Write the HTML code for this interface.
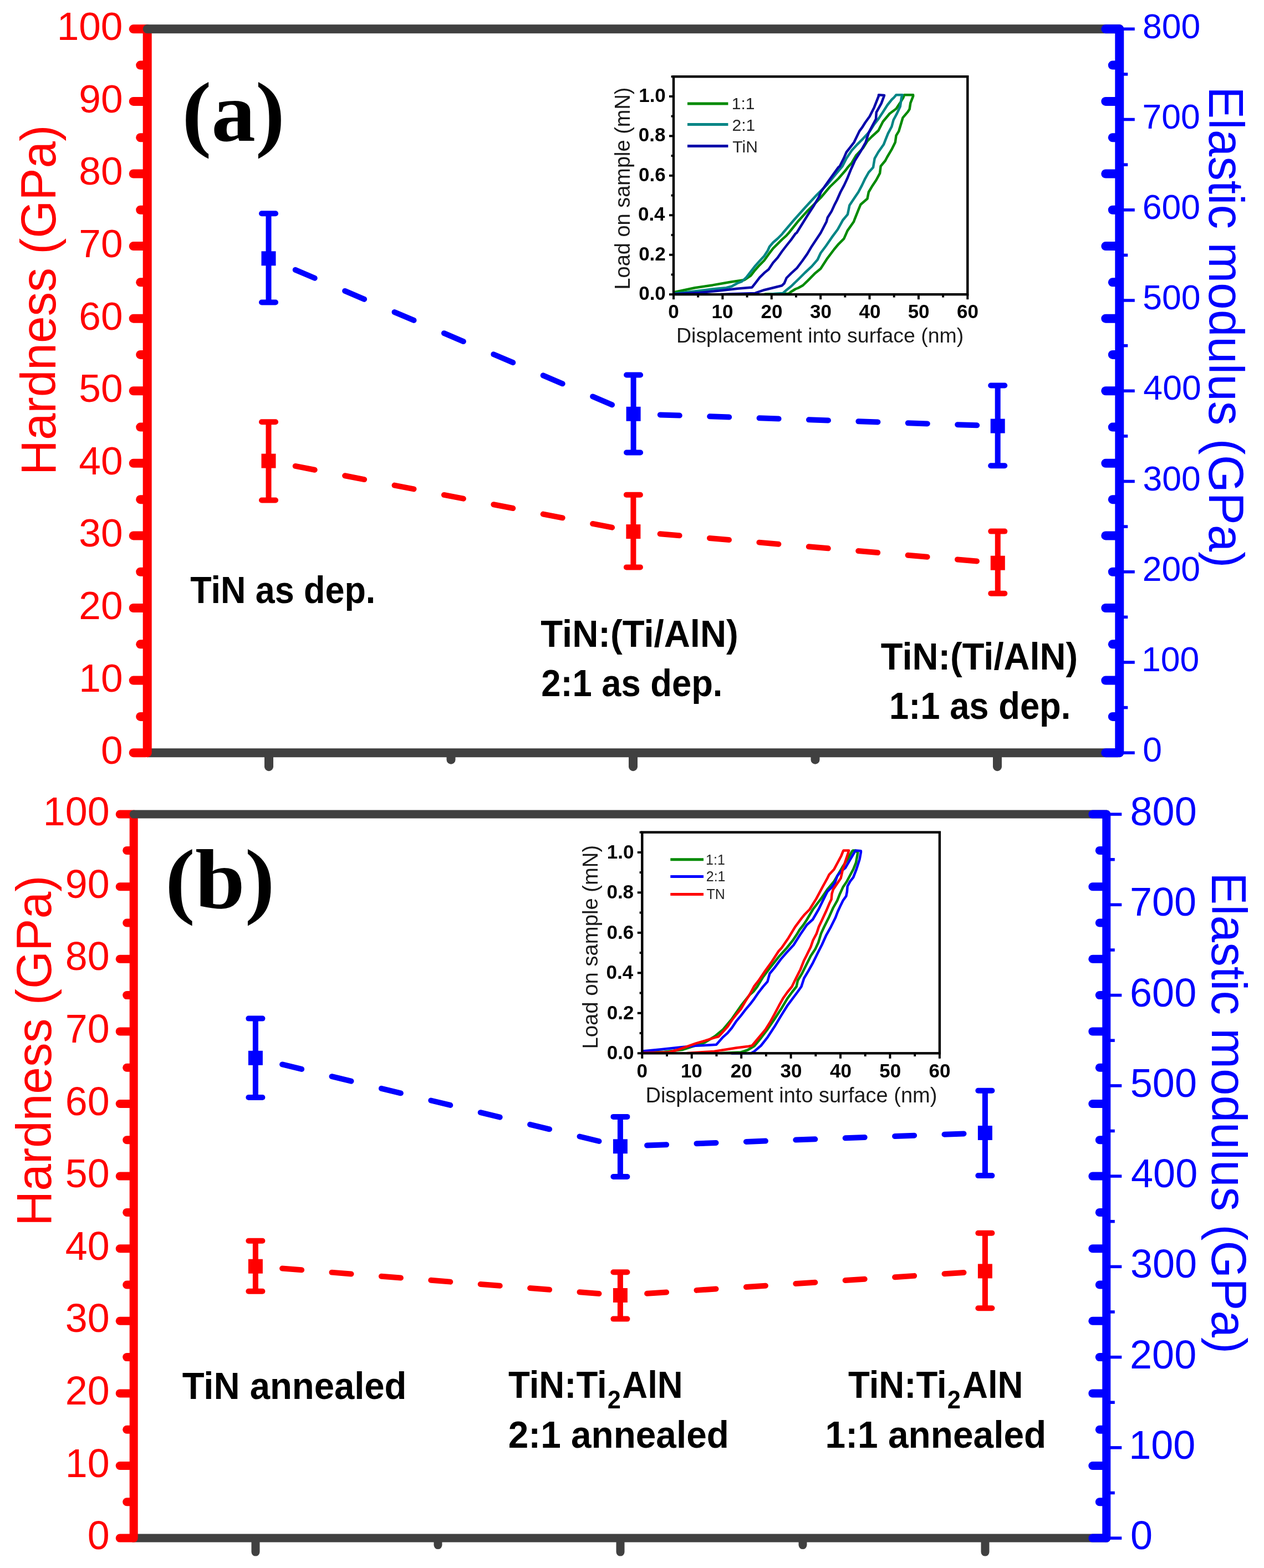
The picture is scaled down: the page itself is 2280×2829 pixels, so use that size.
<!DOCTYPE html>
<html><head><meta charset="utf-8"><title>Hardness and elastic modulus</title>
<style>html,body{margin:0;padding:0;background:#fff;overflow:hidden;width:2280px;height:2829px;}svg{display:block;}</style>
</head><body>
<svg width="2280" height="2829" viewBox="0 0 2280 2829">
<rect width="2280" height="2829" fill="#ffffff"/>
<line x1="265.7" y1="1358.2" x2="2019.3" y2="1358.2" stroke="#404040" stroke-width="16" stroke-linecap="round"/>
<line x1="485" y1="1361.2" x2="485" y2="1383.2" stroke="#404040" stroke-width="16" stroke-linecap="round"/>
<line x1="813.5" y1="1361.2" x2="813.5" y2="1370.7" stroke="#404040" stroke-width="16" stroke-linecap="round"/>
<line x1="1142" y1="1361.2" x2="1142" y2="1383.2" stroke="#404040" stroke-width="16" stroke-linecap="round"/>
<line x1="1470.5" y1="1361.2" x2="1470.5" y2="1370.7" stroke="#404040" stroke-width="16" stroke-linecap="round"/>
<line x1="1799" y1="1361.2" x2="1799" y2="1383.2" stroke="#404040" stroke-width="16" stroke-linecap="round"/>
<line x1="265.7" y1="1358.2" x2="265.7" y2="52.3" stroke="#ff0000" stroke-width="16" stroke-linecap="round"/>
<line x1="240.7" y1="1358.2" x2="262.7" y2="1358.2" stroke="#ff0000" stroke-width="16" stroke-linecap="round"/>
<line x1="253.2" y1="1292.9" x2="262.7" y2="1292.9" stroke="#ff0000" stroke-width="16" stroke-linecap="round"/>
<line x1="240.7" y1="1227.61" x2="262.7" y2="1227.61" stroke="#ff0000" stroke-width="16" stroke-linecap="round"/>
<line x1="253.2" y1="1162.32" x2="262.7" y2="1162.32" stroke="#ff0000" stroke-width="16" stroke-linecap="round"/>
<line x1="240.7" y1="1097.02" x2="262.7" y2="1097.02" stroke="#ff0000" stroke-width="16" stroke-linecap="round"/>
<line x1="253.2" y1="1031.72" x2="262.7" y2="1031.72" stroke="#ff0000" stroke-width="16" stroke-linecap="round"/>
<line x1="240.7" y1="966.43" x2="262.7" y2="966.43" stroke="#ff0000" stroke-width="16" stroke-linecap="round"/>
<line x1="253.2" y1="901.13" x2="262.7" y2="901.13" stroke="#ff0000" stroke-width="16" stroke-linecap="round"/>
<line x1="240.7" y1="835.84" x2="262.7" y2="835.84" stroke="#ff0000" stroke-width="16" stroke-linecap="round"/>
<line x1="253.2" y1="770.54" x2="262.7" y2="770.54" stroke="#ff0000" stroke-width="16" stroke-linecap="round"/>
<line x1="240.7" y1="705.25" x2="262.7" y2="705.25" stroke="#ff0000" stroke-width="16" stroke-linecap="round"/>
<line x1="253.2" y1="639.96" x2="262.7" y2="639.96" stroke="#ff0000" stroke-width="16" stroke-linecap="round"/>
<line x1="240.7" y1="574.66" x2="262.7" y2="574.66" stroke="#ff0000" stroke-width="16" stroke-linecap="round"/>
<line x1="253.2" y1="509.37" x2="262.7" y2="509.37" stroke="#ff0000" stroke-width="16" stroke-linecap="round"/>
<line x1="240.7" y1="444.07" x2="262.7" y2="444.07" stroke="#ff0000" stroke-width="16" stroke-linecap="round"/>
<line x1="253.2" y1="378.78" x2="262.7" y2="378.78" stroke="#ff0000" stroke-width="16" stroke-linecap="round"/>
<line x1="240.7" y1="313.48" x2="262.7" y2="313.48" stroke="#ff0000" stroke-width="16" stroke-linecap="round"/>
<line x1="253.2" y1="248.18" x2="262.7" y2="248.18" stroke="#ff0000" stroke-width="16" stroke-linecap="round"/>
<line x1="240.7" y1="182.89" x2="262.7" y2="182.89" stroke="#ff0000" stroke-width="16" stroke-linecap="round"/>
<line x1="253.2" y1="117.59" x2="262.7" y2="117.59" stroke="#ff0000" stroke-width="16" stroke-linecap="round"/>
<line x1="240.7" y1="52.3" x2="262.7" y2="52.3" stroke="#ff0000" stroke-width="16" stroke-linecap="round"/>
<line x1="265.7" y1="52.3" x2="2019.3" y2="52.3" stroke="#404040" stroke-width="16" stroke-linecap="round"/>
<line x1="2019.3" y1="1358.2" x2="2019.3" y2="52.3" stroke="#0000ff" stroke-width="16" stroke-linecap="round"/>
<line x1="2016.3" y1="1358.2" x2="1994.3" y2="1358.2" stroke="#0000ff" stroke-width="16" stroke-linecap="round"/>
<line x1="2016.3" y1="1292.9" x2="2006.8" y2="1292.9" stroke="#0000ff" stroke-width="16" stroke-linecap="round"/>
<line x1="2016.3" y1="1227.61" x2="1994.3" y2="1227.61" stroke="#0000ff" stroke-width="16" stroke-linecap="round"/>
<line x1="2016.3" y1="1162.32" x2="2006.8" y2="1162.32" stroke="#0000ff" stroke-width="16" stroke-linecap="round"/>
<line x1="2016.3" y1="1097.02" x2="1994.3" y2="1097.02" stroke="#0000ff" stroke-width="16" stroke-linecap="round"/>
<line x1="2016.3" y1="1031.72" x2="2006.8" y2="1031.72" stroke="#0000ff" stroke-width="16" stroke-linecap="round"/>
<line x1="2016.3" y1="966.43" x2="1994.3" y2="966.43" stroke="#0000ff" stroke-width="16" stroke-linecap="round"/>
<line x1="2016.3" y1="901.13" x2="2006.8" y2="901.13" stroke="#0000ff" stroke-width="16" stroke-linecap="round"/>
<line x1="2016.3" y1="835.84" x2="1994.3" y2="835.84" stroke="#0000ff" stroke-width="16" stroke-linecap="round"/>
<line x1="2016.3" y1="770.54" x2="2006.8" y2="770.54" stroke="#0000ff" stroke-width="16" stroke-linecap="round"/>
<line x1="2016.3" y1="705.25" x2="1994.3" y2="705.25" stroke="#0000ff" stroke-width="16" stroke-linecap="round"/>
<line x1="2016.3" y1="639.96" x2="2006.8" y2="639.96" stroke="#0000ff" stroke-width="16" stroke-linecap="round"/>
<line x1="2016.3" y1="574.66" x2="1994.3" y2="574.66" stroke="#0000ff" stroke-width="16" stroke-linecap="round"/>
<line x1="2016.3" y1="509.37" x2="2006.8" y2="509.37" stroke="#0000ff" stroke-width="16" stroke-linecap="round"/>
<line x1="2016.3" y1="444.07" x2="1994.3" y2="444.07" stroke="#0000ff" stroke-width="16" stroke-linecap="round"/>
<line x1="2016.3" y1="378.78" x2="2006.8" y2="378.78" stroke="#0000ff" stroke-width="16" stroke-linecap="round"/>
<line x1="2016.3" y1="313.48" x2="1994.3" y2="313.48" stroke="#0000ff" stroke-width="16" stroke-linecap="round"/>
<line x1="2016.3" y1="248.18" x2="2006.8" y2="248.18" stroke="#0000ff" stroke-width="16" stroke-linecap="round"/>
<line x1="2016.3" y1="182.89" x2="1994.3" y2="182.89" stroke="#0000ff" stroke-width="16" stroke-linecap="round"/>
<line x1="2016.3" y1="117.59" x2="2006.8" y2="117.59" stroke="#0000ff" stroke-width="16" stroke-linecap="round"/>
<line x1="2016.3" y1="52.3" x2="1994.3" y2="52.3" stroke="#0000ff" stroke-width="16" stroke-linecap="round"/>
<line x1="2025.3" y1="1358.2" x2="2046.8" y2="1358.2" stroke="#0000ff" stroke-width="5.5" stroke-linecap="butt"/>
<line x1="2025.3" y1="1276.58" x2="2034.3" y2="1276.58" stroke="#0000ff" stroke-width="5.5" stroke-linecap="butt"/>
<line x1="2025.3" y1="1194.96" x2="2046.8" y2="1194.96" stroke="#0000ff" stroke-width="5.5" stroke-linecap="butt"/>
<line x1="2025.3" y1="1113.34" x2="2034.3" y2="1113.34" stroke="#0000ff" stroke-width="5.5" stroke-linecap="butt"/>
<line x1="2025.3" y1="1031.72" x2="2046.8" y2="1031.72" stroke="#0000ff" stroke-width="5.5" stroke-linecap="butt"/>
<line x1="2025.3" y1="950.11" x2="2034.3" y2="950.11" stroke="#0000ff" stroke-width="5.5" stroke-linecap="butt"/>
<line x1="2025.3" y1="868.49" x2="2046.8" y2="868.49" stroke="#0000ff" stroke-width="5.5" stroke-linecap="butt"/>
<line x1="2025.3" y1="786.87" x2="2034.3" y2="786.87" stroke="#0000ff" stroke-width="5.5" stroke-linecap="butt"/>
<line x1="2025.3" y1="705.25" x2="2046.8" y2="705.25" stroke="#0000ff" stroke-width="5.5" stroke-linecap="butt"/>
<line x1="2025.3" y1="623.63" x2="2034.3" y2="623.63" stroke="#0000ff" stroke-width="5.5" stroke-linecap="butt"/>
<line x1="2025.3" y1="542.01" x2="2046.8" y2="542.01" stroke="#0000ff" stroke-width="5.5" stroke-linecap="butt"/>
<line x1="2025.3" y1="460.39" x2="2034.3" y2="460.39" stroke="#0000ff" stroke-width="5.5" stroke-linecap="butt"/>
<line x1="2025.3" y1="378.78" x2="2046.8" y2="378.78" stroke="#0000ff" stroke-width="5.5" stroke-linecap="butt"/>
<line x1="2025.3" y1="297.16" x2="2034.3" y2="297.16" stroke="#0000ff" stroke-width="5.5" stroke-linecap="butt"/>
<line x1="2025.3" y1="215.54" x2="2046.8" y2="215.54" stroke="#0000ff" stroke-width="5.5" stroke-linecap="butt"/>
<line x1="2025.3" y1="133.92" x2="2034.3" y2="133.92" stroke="#0000ff" stroke-width="5.5" stroke-linecap="butt"/>
<line x1="2025.3" y1="52.3" x2="2046.8" y2="52.3" stroke="#0000ff" stroke-width="5.5" stroke-linecap="butt"/>
<text transform="translate(181.88,1378.2) scale(1.0000,1)" font-family='"Liberation Sans", Arial, sans-serif' font-weight="normal" font-size="71.2" fill="#ff0000">0</text>
<text transform="translate(142.29,1247.61) scale(1.0000,1)" font-family='"Liberation Sans", Arial, sans-serif' font-weight="normal" font-size="71.2" fill="#ff0000">10</text>
<text transform="translate(142.29,1117.02) scale(1.0000,1)" font-family='"Liberation Sans", Arial, sans-serif' font-weight="normal" font-size="71.2" fill="#ff0000">20</text>
<text transform="translate(142.29,986.43) scale(1.0000,1)" font-family='"Liberation Sans", Arial, sans-serif' font-weight="normal" font-size="71.2" fill="#ff0000">30</text>
<text transform="translate(142.29,855.84) scale(1.0000,1)" font-family='"Liberation Sans", Arial, sans-serif' font-weight="normal" font-size="71.2" fill="#ff0000">40</text>
<text transform="translate(142.29,725.25) scale(1.0000,1)" font-family='"Liberation Sans", Arial, sans-serif' font-weight="normal" font-size="71.2" fill="#ff0000">50</text>
<text transform="translate(142.29,594.66) scale(1.0000,1)" font-family='"Liberation Sans", Arial, sans-serif' font-weight="normal" font-size="71.2" fill="#ff0000">60</text>
<text transform="translate(142.29,464.07) scale(1.0000,1)" font-family='"Liberation Sans", Arial, sans-serif' font-weight="normal" font-size="71.2" fill="#ff0000">70</text>
<text transform="translate(142.29,333.48) scale(1.0000,1)" font-family='"Liberation Sans", Arial, sans-serif' font-weight="normal" font-size="71.2" fill="#ff0000">80</text>
<text transform="translate(142.29,202.89) scale(1.0000,1)" font-family='"Liberation Sans", Arial, sans-serif' font-weight="normal" font-size="71.2" fill="#ff0000">90</text>
<text transform="translate(102.69,72.3) scale(1.0000,1)" font-family='"Liberation Sans", Arial, sans-serif' font-weight="normal" font-size="71.2" fill="#ff0000">100</text>
<text transform="translate(2061.36,1374.4) scale(1.0000,1)" font-family='"Liberation Sans", Arial, sans-serif' font-weight="normal" font-size="62.5" fill="#0000ff">0</text>
<text transform="translate(2059.04,1211.16) scale(1.0000,1)" font-family='"Liberation Sans", Arial, sans-serif' font-weight="normal" font-size="62.5" fill="#0000ff">100</text>
<text transform="translate(2060.66,1047.92) scale(1.0000,1)" font-family='"Liberation Sans", Arial, sans-serif' font-weight="normal" font-size="62.5" fill="#0000ff">200</text>
<text transform="translate(2061.42,884.69) scale(1.0000,1)" font-family='"Liberation Sans", Arial, sans-serif' font-weight="normal" font-size="62.5" fill="#0000ff">300</text>
<text transform="translate(2062.37,721.45) scale(1.0000,1)" font-family='"Liberation Sans", Arial, sans-serif' font-weight="normal" font-size="62.5" fill="#0000ff">400</text>
<text transform="translate(2061.3,558.21) scale(1.0000,1)" font-family='"Liberation Sans", Arial, sans-serif' font-weight="normal" font-size="62.5" fill="#0000ff">500</text>
<text transform="translate(2060.63,394.98) scale(1.0000,1)" font-family='"Liberation Sans", Arial, sans-serif' font-weight="normal" font-size="62.5" fill="#0000ff">600</text>
<text transform="translate(2060.6,231.74) scale(1.0000,1)" font-family='"Liberation Sans", Arial, sans-serif' font-weight="normal" font-size="62.5" fill="#0000ff">700</text>
<text transform="translate(2061.08,68.5) scale(1.0000,1)" font-family='"Liberation Sans", Arial, sans-serif' font-weight="normal" font-size="62.5" fill="#0000ff">800</text>
<text transform="translate(100.3,857.17) rotate(-90) scale(0.9990,1.0200)" font-family='"Liberation Sans", Arial, sans-serif' font-weight="normal" font-size="87.5" fill="#ff0000">Hardness (GPa)</text>
<text transform="translate(2181.2,156.04) rotate(90) scale(0.9979,1.0200)" font-family='"Liberation Sans", Arial, sans-serif' font-weight="normal" font-size="87.5" fill="#0000ff">Elastic modulus (GPa)</text>
<line x1="241.2" y1="2775.1" x2="1995.8" y2="2775.1" stroke="#404040" stroke-width="15" stroke-linecap="round"/>
<line x1="461" y1="2778.1" x2="461" y2="2800.1" stroke="#404040" stroke-width="15" stroke-linecap="round"/>
<line x1="790" y1="2778.1" x2="790" y2="2787.6" stroke="#404040" stroke-width="15" stroke-linecap="round"/>
<line x1="1119" y1="2778.1" x2="1119" y2="2800.1" stroke="#404040" stroke-width="15" stroke-linecap="round"/>
<line x1="1448" y1="2778.1" x2="1448" y2="2787.6" stroke="#404040" stroke-width="15" stroke-linecap="round"/>
<line x1="1777" y1="2778.1" x2="1777" y2="2800.1" stroke="#404040" stroke-width="15" stroke-linecap="round"/>
<line x1="241.2" y1="2775.1" x2="241.2" y2="1469.1" stroke="#ff0000" stroke-width="15" stroke-linecap="round"/>
<line x1="216.2" y1="2775.1" x2="238.2" y2="2775.1" stroke="#ff0000" stroke-width="15" stroke-linecap="round"/>
<line x1="228.7" y1="2709.8" x2="238.2" y2="2709.8" stroke="#ff0000" stroke-width="15" stroke-linecap="round"/>
<line x1="216.2" y1="2644.5" x2="238.2" y2="2644.5" stroke="#ff0000" stroke-width="15" stroke-linecap="round"/>
<line x1="228.7" y1="2579.2" x2="238.2" y2="2579.2" stroke="#ff0000" stroke-width="15" stroke-linecap="round"/>
<line x1="216.2" y1="2513.9" x2="238.2" y2="2513.9" stroke="#ff0000" stroke-width="15" stroke-linecap="round"/>
<line x1="228.7" y1="2448.6" x2="238.2" y2="2448.6" stroke="#ff0000" stroke-width="15" stroke-linecap="round"/>
<line x1="216.2" y1="2383.3" x2="238.2" y2="2383.3" stroke="#ff0000" stroke-width="15" stroke-linecap="round"/>
<line x1="228.7" y1="2318" x2="238.2" y2="2318" stroke="#ff0000" stroke-width="15" stroke-linecap="round"/>
<line x1="216.2" y1="2252.7" x2="238.2" y2="2252.7" stroke="#ff0000" stroke-width="15" stroke-linecap="round"/>
<line x1="228.7" y1="2187.4" x2="238.2" y2="2187.4" stroke="#ff0000" stroke-width="15" stroke-linecap="round"/>
<line x1="216.2" y1="2122.1" x2="238.2" y2="2122.1" stroke="#ff0000" stroke-width="15" stroke-linecap="round"/>
<line x1="228.7" y1="2056.8" x2="238.2" y2="2056.8" stroke="#ff0000" stroke-width="15" stroke-linecap="round"/>
<line x1="216.2" y1="1991.5" x2="238.2" y2="1991.5" stroke="#ff0000" stroke-width="15" stroke-linecap="round"/>
<line x1="228.7" y1="1926.2" x2="238.2" y2="1926.2" stroke="#ff0000" stroke-width="15" stroke-linecap="round"/>
<line x1="216.2" y1="1860.9" x2="238.2" y2="1860.9" stroke="#ff0000" stroke-width="15" stroke-linecap="round"/>
<line x1="228.7" y1="1795.6" x2="238.2" y2="1795.6" stroke="#ff0000" stroke-width="15" stroke-linecap="round"/>
<line x1="216.2" y1="1730.3" x2="238.2" y2="1730.3" stroke="#ff0000" stroke-width="15" stroke-linecap="round"/>
<line x1="228.7" y1="1665" x2="238.2" y2="1665" stroke="#ff0000" stroke-width="15" stroke-linecap="round"/>
<line x1="216.2" y1="1599.7" x2="238.2" y2="1599.7" stroke="#ff0000" stroke-width="15" stroke-linecap="round"/>
<line x1="228.7" y1="1534.4" x2="238.2" y2="1534.4" stroke="#ff0000" stroke-width="15" stroke-linecap="round"/>
<line x1="216.2" y1="1469.1" x2="238.2" y2="1469.1" stroke="#ff0000" stroke-width="15" stroke-linecap="round"/>
<line x1="241.2" y1="1469.1" x2="1995.8" y2="1469.1" stroke="#404040" stroke-width="15" stroke-linecap="round"/>
<line x1="1995.8" y1="2775.1" x2="1995.8" y2="1469.1" stroke="#0000ff" stroke-width="15" stroke-linecap="round"/>
<line x1="1992.8" y1="2775.1" x2="1970.8" y2="2775.1" stroke="#0000ff" stroke-width="15" stroke-linecap="round"/>
<line x1="1992.8" y1="2709.8" x2="1983.3" y2="2709.8" stroke="#0000ff" stroke-width="15" stroke-linecap="round"/>
<line x1="1992.8" y1="2644.5" x2="1970.8" y2="2644.5" stroke="#0000ff" stroke-width="15" stroke-linecap="round"/>
<line x1="1992.8" y1="2579.2" x2="1983.3" y2="2579.2" stroke="#0000ff" stroke-width="15" stroke-linecap="round"/>
<line x1="1992.8" y1="2513.9" x2="1970.8" y2="2513.9" stroke="#0000ff" stroke-width="15" stroke-linecap="round"/>
<line x1="1992.8" y1="2448.6" x2="1983.3" y2="2448.6" stroke="#0000ff" stroke-width="15" stroke-linecap="round"/>
<line x1="1992.8" y1="2383.3" x2="1970.8" y2="2383.3" stroke="#0000ff" stroke-width="15" stroke-linecap="round"/>
<line x1="1992.8" y1="2318" x2="1983.3" y2="2318" stroke="#0000ff" stroke-width="15" stroke-linecap="round"/>
<line x1="1992.8" y1="2252.7" x2="1970.8" y2="2252.7" stroke="#0000ff" stroke-width="15" stroke-linecap="round"/>
<line x1="1992.8" y1="2187.4" x2="1983.3" y2="2187.4" stroke="#0000ff" stroke-width="15" stroke-linecap="round"/>
<line x1="1992.8" y1="2122.1" x2="1970.8" y2="2122.1" stroke="#0000ff" stroke-width="15" stroke-linecap="round"/>
<line x1="1992.8" y1="2056.8" x2="1983.3" y2="2056.8" stroke="#0000ff" stroke-width="15" stroke-linecap="round"/>
<line x1="1992.8" y1="1991.5" x2="1970.8" y2="1991.5" stroke="#0000ff" stroke-width="15" stroke-linecap="round"/>
<line x1="1992.8" y1="1926.2" x2="1983.3" y2="1926.2" stroke="#0000ff" stroke-width="15" stroke-linecap="round"/>
<line x1="1992.8" y1="1860.9" x2="1970.8" y2="1860.9" stroke="#0000ff" stroke-width="15" stroke-linecap="round"/>
<line x1="1992.8" y1="1795.6" x2="1983.3" y2="1795.6" stroke="#0000ff" stroke-width="15" stroke-linecap="round"/>
<line x1="1992.8" y1="1730.3" x2="1970.8" y2="1730.3" stroke="#0000ff" stroke-width="15" stroke-linecap="round"/>
<line x1="1992.8" y1="1665" x2="1983.3" y2="1665" stroke="#0000ff" stroke-width="15" stroke-linecap="round"/>
<line x1="1992.8" y1="1599.7" x2="1970.8" y2="1599.7" stroke="#0000ff" stroke-width="15" stroke-linecap="round"/>
<line x1="1992.8" y1="1534.4" x2="1983.3" y2="1534.4" stroke="#0000ff" stroke-width="15" stroke-linecap="round"/>
<line x1="1992.8" y1="1469.1" x2="1970.8" y2="1469.1" stroke="#0000ff" stroke-width="15" stroke-linecap="round"/>
<line x1="2001.8" y1="2775.1" x2="2023.3" y2="2775.1" stroke="#0000ff" stroke-width="5.5" stroke-linecap="butt"/>
<line x1="2001.8" y1="2693.47" x2="2010.8" y2="2693.47" stroke="#0000ff" stroke-width="5.5" stroke-linecap="butt"/>
<line x1="2001.8" y1="2611.85" x2="2023.3" y2="2611.85" stroke="#0000ff" stroke-width="5.5" stroke-linecap="butt"/>
<line x1="2001.8" y1="2530.22" x2="2010.8" y2="2530.22" stroke="#0000ff" stroke-width="5.5" stroke-linecap="butt"/>
<line x1="2001.8" y1="2448.6" x2="2023.3" y2="2448.6" stroke="#0000ff" stroke-width="5.5" stroke-linecap="butt"/>
<line x1="2001.8" y1="2366.97" x2="2010.8" y2="2366.97" stroke="#0000ff" stroke-width="5.5" stroke-linecap="butt"/>
<line x1="2001.8" y1="2285.35" x2="2023.3" y2="2285.35" stroke="#0000ff" stroke-width="5.5" stroke-linecap="butt"/>
<line x1="2001.8" y1="2203.72" x2="2010.8" y2="2203.72" stroke="#0000ff" stroke-width="5.5" stroke-linecap="butt"/>
<line x1="2001.8" y1="2122.1" x2="2023.3" y2="2122.1" stroke="#0000ff" stroke-width="5.5" stroke-linecap="butt"/>
<line x1="2001.8" y1="2040.47" x2="2010.8" y2="2040.47" stroke="#0000ff" stroke-width="5.5" stroke-linecap="butt"/>
<line x1="2001.8" y1="1958.85" x2="2023.3" y2="1958.85" stroke="#0000ff" stroke-width="5.5" stroke-linecap="butt"/>
<line x1="2001.8" y1="1877.22" x2="2010.8" y2="1877.22" stroke="#0000ff" stroke-width="5.5" stroke-linecap="butt"/>
<line x1="2001.8" y1="1795.6" x2="2023.3" y2="1795.6" stroke="#0000ff" stroke-width="5.5" stroke-linecap="butt"/>
<line x1="2001.8" y1="1713.97" x2="2010.8" y2="1713.97" stroke="#0000ff" stroke-width="5.5" stroke-linecap="butt"/>
<line x1="2001.8" y1="1632.35" x2="2023.3" y2="1632.35" stroke="#0000ff" stroke-width="5.5" stroke-linecap="butt"/>
<line x1="2001.8" y1="1550.72" x2="2010.8" y2="1550.72" stroke="#0000ff" stroke-width="5.5" stroke-linecap="butt"/>
<line x1="2001.8" y1="1469.1" x2="2023.3" y2="1469.1" stroke="#0000ff" stroke-width="5.5" stroke-linecap="butt"/>
<text transform="translate(157.67,2795.2) scale(1.0000,1)" font-family='"Liberation Sans", Arial, sans-serif' font-weight="normal" font-size="71.8" fill="#ff0000">0</text>
<text transform="translate(117.74,2664.6) scale(1.0000,1)" font-family='"Liberation Sans", Arial, sans-serif' font-weight="normal" font-size="71.8" fill="#ff0000">10</text>
<text transform="translate(117.74,2534) scale(1.0000,1)" font-family='"Liberation Sans", Arial, sans-serif' font-weight="normal" font-size="71.8" fill="#ff0000">20</text>
<text transform="translate(117.74,2403.4) scale(1.0000,1)" font-family='"Liberation Sans", Arial, sans-serif' font-weight="normal" font-size="71.8" fill="#ff0000">30</text>
<text transform="translate(117.74,2272.8) scale(1.0000,1)" font-family='"Liberation Sans", Arial, sans-serif' font-weight="normal" font-size="71.8" fill="#ff0000">40</text>
<text transform="translate(117.74,2142.2) scale(1.0000,1)" font-family='"Liberation Sans", Arial, sans-serif' font-weight="normal" font-size="71.8" fill="#ff0000">50</text>
<text transform="translate(117.74,2011.6) scale(1.0000,1)" font-family='"Liberation Sans", Arial, sans-serif' font-weight="normal" font-size="71.8" fill="#ff0000">60</text>
<text transform="translate(117.74,1881) scale(1.0000,1)" font-family='"Liberation Sans", Arial, sans-serif' font-weight="normal" font-size="71.8" fill="#ff0000">70</text>
<text transform="translate(117.74,1750.4) scale(1.0000,1)" font-family='"Liberation Sans", Arial, sans-serif' font-weight="normal" font-size="71.8" fill="#ff0000">80</text>
<text transform="translate(117.74,1619.8) scale(1.0000,1)" font-family='"Liberation Sans", Arial, sans-serif' font-weight="normal" font-size="71.8" fill="#ff0000">90</text>
<text transform="translate(77.81,1489.2) scale(1.0000,1)" font-family='"Liberation Sans", Arial, sans-serif' font-weight="normal" font-size="71.8" fill="#ff0000">100</text>
<text transform="translate(2038.89,2795.2) scale(1.0000,1)" font-family='"Liberation Sans", Arial, sans-serif' font-weight="normal" font-size="72" fill="#0000ff">0</text>
<text transform="translate(2036.22,2631.95) scale(1.0000,1)" font-family='"Liberation Sans", Arial, sans-serif' font-weight="normal" font-size="72" fill="#0000ff">100</text>
<text transform="translate(2038.08,2468.7) scale(1.0000,1)" font-family='"Liberation Sans", Arial, sans-serif' font-weight="normal" font-size="72" fill="#0000ff">200</text>
<text transform="translate(2038.96,2305.45) scale(1.0000,1)" font-family='"Liberation Sans", Arial, sans-serif' font-weight="normal" font-size="72" fill="#0000ff">300</text>
<text transform="translate(2040.05,2142.2) scale(1.0000,1)" font-family='"Liberation Sans", Arial, sans-serif' font-weight="normal" font-size="72" fill="#0000ff">400</text>
<text transform="translate(2038.82,1978.95) scale(1.0000,1)" font-family='"Liberation Sans", Arial, sans-serif' font-weight="normal" font-size="72" fill="#0000ff">500</text>
<text transform="translate(2038.04,1815.7) scale(1.0000,1)" font-family='"Liberation Sans", Arial, sans-serif' font-weight="normal" font-size="72" fill="#0000ff">600</text>
<text transform="translate(2038.01,1652.45) scale(1.0000,1)" font-family='"Liberation Sans", Arial, sans-serif' font-weight="normal" font-size="72" fill="#0000ff">700</text>
<text transform="translate(2038.57,1489.2) scale(1.0000,1)" font-family='"Liberation Sans", Arial, sans-serif' font-weight="normal" font-size="72" fill="#0000ff">800</text>
<text transform="translate(91.6,2211.98) rotate(-90) scale(1.0004,1.0200)" font-family='"Liberation Sans", Arial, sans-serif' font-weight="normal" font-size="87.5" fill="#ff0000">Hardness (GPa)</text>
<text transform="translate(2185.6,1574.04) rotate(90) scale(0.9973,1.0200)" font-family='"Liberation Sans", Arial, sans-serif' font-weight="normal" font-size="87.5" fill="#0000ff">Elastic modulus (GPa)</text>
<line x1="532.7" y1="486.84" x2="567.7" y2="501.76" stroke="#0000ff" stroke-width="10" stroke-linecap="round"/>
<line x1="622.1" y1="524.95" x2="657.1" y2="539.87" stroke="#0000ff" stroke-width="10" stroke-linecap="round"/>
<line x1="711.5" y1="563.05" x2="746.5" y2="577.97" stroke="#0000ff" stroke-width="10" stroke-linecap="round"/>
<line x1="800.9" y1="601.16" x2="835.9" y2="616.08" stroke="#0000ff" stroke-width="10" stroke-linecap="round"/>
<line x1="890.3" y1="639.26" x2="925.3" y2="654.18" stroke="#0000ff" stroke-width="10" stroke-linecap="round"/>
<line x1="979.7" y1="677.37" x2="1014.7" y2="692.29" stroke="#0000ff" stroke-width="10" stroke-linecap="round"/>
<line x1="1069.1" y1="715.47" x2="1104.1" y2="730.39" stroke="#0000ff" stroke-width="10" stroke-linecap="round"/>
<line x1="1190.8" y1="748.4" x2="1225.8" y2="749.56" stroke="#0000ff" stroke-width="10" stroke-linecap="round"/>
<line x1="1280.2" y1="751.37" x2="1315.2" y2="752.53" stroke="#0000ff" stroke-width="10" stroke-linecap="round"/>
<line x1="1369.6" y1="754.33" x2="1404.6" y2="755.49" stroke="#0000ff" stroke-width="10" stroke-linecap="round"/>
<line x1="1459" y1="757.3" x2="1494" y2="758.46" stroke="#0000ff" stroke-width="10" stroke-linecap="round"/>
<line x1="1548.4" y1="760.26" x2="1583.4" y2="761.42" stroke="#0000ff" stroke-width="10" stroke-linecap="round"/>
<line x1="1637.8" y1="763.23" x2="1672.8" y2="764.39" stroke="#0000ff" stroke-width="10" stroke-linecap="round"/>
<line x1="1727.2" y1="766.19" x2="1762.2" y2="767.36" stroke="#0000ff" stroke-width="10" stroke-linecap="round"/>
<line x1="484.5" y1="385.3" x2="484.5" y2="545.5" stroke="#0000ff" stroke-width="10" stroke-linecap="butt"/>
<line x1="472" y1="385.3" x2="497" y2="385.3" stroke="#0000ff" stroke-width="10" stroke-linecap="round"/>
<line x1="472" y1="545.5" x2="497" y2="545.5" stroke="#0000ff" stroke-width="10" stroke-linecap="round"/>
<rect x="471.5" y="453.3" width="26" height="26" fill="#0000ff"/>
<line x1="1142.6" y1="676.5" x2="1142.6" y2="816.5" stroke="#0000ff" stroke-width="10" stroke-linecap="butt"/>
<line x1="1130.1" y1="676.5" x2="1155.1" y2="676.5" stroke="#0000ff" stroke-width="10" stroke-linecap="round"/>
<line x1="1130.1" y1="816.5" x2="1155.1" y2="816.5" stroke="#0000ff" stroke-width="10" stroke-linecap="round"/>
<rect x="1129.6" y="733.8" width="26" height="26" fill="#0000ff"/>
<line x1="1799.7" y1="695.5" x2="1799.7" y2="840.3" stroke="#0000ff" stroke-width="10" stroke-linecap="butt"/>
<line x1="1787.2" y1="695.5" x2="1812.2" y2="695.5" stroke="#0000ff" stroke-width="10" stroke-linecap="round"/>
<line x1="1787.2" y1="840.3" x2="1812.2" y2="840.3" stroke="#0000ff" stroke-width="10" stroke-linecap="round"/>
<rect x="1786.7" y="755.6" width="26" height="26" fill="#0000ff"/>
<line x1="532.7" y1="840.94" x2="567.7" y2="847.72" stroke="#ff0000" stroke-width="10" stroke-linecap="round"/>
<line x1="622.1" y1="858.27" x2="657.1" y2="865.05" stroke="#ff0000" stroke-width="10" stroke-linecap="round"/>
<line x1="711.5" y1="875.59" x2="746.5" y2="882.38" stroke="#ff0000" stroke-width="10" stroke-linecap="round"/>
<line x1="800.9" y1="892.92" x2="835.9" y2="899.7" stroke="#ff0000" stroke-width="10" stroke-linecap="round"/>
<line x1="890.3" y1="910.24" x2="925.3" y2="917.03" stroke="#ff0000" stroke-width="10" stroke-linecap="round"/>
<line x1="979.7" y1="927.57" x2="1014.7" y2="934.35" stroke="#ff0000" stroke-width="10" stroke-linecap="round"/>
<line x1="1069.1" y1="944.89" x2="1104.1" y2="951.68" stroke="#ff0000" stroke-width="10" stroke-linecap="round"/>
<line x1="1190.6" y1="963.25" x2="1225.6" y2="966.26" stroke="#ff0000" stroke-width="10" stroke-linecap="round"/>
<line x1="1280" y1="970.95" x2="1315" y2="973.96" stroke="#ff0000" stroke-width="10" stroke-linecap="round"/>
<line x1="1369.4" y1="978.64" x2="1404.4" y2="981.66" stroke="#ff0000" stroke-width="10" stroke-linecap="round"/>
<line x1="1458.8" y1="986.34" x2="1493.8" y2="989.35" stroke="#ff0000" stroke-width="10" stroke-linecap="round"/>
<line x1="1548.2" y1="994.04" x2="1583.2" y2="997.05" stroke="#ff0000" stroke-width="10" stroke-linecap="round"/>
<line x1="1637.6" y1="1001.74" x2="1672.6" y2="1004.75" stroke="#ff0000" stroke-width="10" stroke-linecap="round"/>
<line x1="1727" y1="1009.43" x2="1762" y2="1012.45" stroke="#ff0000" stroke-width="10" stroke-linecap="round"/>
<line x1="484.5" y1="761.3" x2="484.5" y2="902.5" stroke="#ff0000" stroke-width="10" stroke-linecap="butt"/>
<line x1="472" y1="761.3" x2="497" y2="761.3" stroke="#ff0000" stroke-width="10" stroke-linecap="round"/>
<line x1="472" y1="902.5" x2="497" y2="902.5" stroke="#ff0000" stroke-width="10" stroke-linecap="round"/>
<rect x="471.5" y="818.6" width="26" height="26" fill="#ff0000"/>
<line x1="1142.4" y1="892.7" x2="1142.4" y2="1023.4" stroke="#ff0000" stroke-width="10" stroke-linecap="butt"/>
<line x1="1129.9" y1="892.7" x2="1154.9" y2="892.7" stroke="#ff0000" stroke-width="10" stroke-linecap="round"/>
<line x1="1129.9" y1="1023.4" x2="1154.9" y2="1023.4" stroke="#ff0000" stroke-width="10" stroke-linecap="round"/>
<rect x="1129.4" y="946.1" width="26" height="26" fill="#ff0000"/>
<line x1="1799.8" y1="958.6" x2="1799.8" y2="1070.8" stroke="#ff0000" stroke-width="10" stroke-linecap="butt"/>
<line x1="1787.3" y1="958.6" x2="1812.3" y2="958.6" stroke="#ff0000" stroke-width="10" stroke-linecap="round"/>
<line x1="1787.3" y1="1070.8" x2="1812.3" y2="1070.8" stroke="#ff0000" stroke-width="10" stroke-linecap="round"/>
<rect x="1786.8" y="1002.7" width="26" height="26" fill="#ff0000"/>
<line x1="509.1" y1="1920.48" x2="544.1" y2="1928.97" stroke="#0000ff" stroke-width="10" stroke-linecap="round"/>
<line x1="598.5" y1="1942.15" x2="633.5" y2="1950.64" stroke="#0000ff" stroke-width="10" stroke-linecap="round"/>
<line x1="687.9" y1="1963.83" x2="722.9" y2="1972.31" stroke="#0000ff" stroke-width="10" stroke-linecap="round"/>
<line x1="777.3" y1="1985.5" x2="812.3" y2="1993.98" stroke="#0000ff" stroke-width="10" stroke-linecap="round"/>
<line x1="866.7" y1="2007.17" x2="901.7" y2="2015.65" stroke="#0000ff" stroke-width="10" stroke-linecap="round"/>
<line x1="956.1" y1="2028.84" x2="991.1" y2="2037.32" stroke="#0000ff" stroke-width="10" stroke-linecap="round"/>
<line x1="1045.5" y1="2050.51" x2="1080.5" y2="2058.99" stroke="#0000ff" stroke-width="10" stroke-linecap="round"/>
<line x1="1167.1" y1="2066.52" x2="1202.1" y2="2065.23" stroke="#0000ff" stroke-width="10" stroke-linecap="round"/>
<line x1="1256.5" y1="2063.22" x2="1291.5" y2="2061.93" stroke="#0000ff" stroke-width="10" stroke-linecap="round"/>
<line x1="1345.9" y1="2059.92" x2="1380.9" y2="2058.62" stroke="#0000ff" stroke-width="10" stroke-linecap="round"/>
<line x1="1435.3" y1="2056.62" x2="1470.3" y2="2055.32" stroke="#0000ff" stroke-width="10" stroke-linecap="round"/>
<line x1="1524.7" y1="2053.31" x2="1559.7" y2="2052.02" stroke="#0000ff" stroke-width="10" stroke-linecap="round"/>
<line x1="1614.1" y1="2050.01" x2="1649.1" y2="2048.72" stroke="#0000ff" stroke-width="10" stroke-linecap="round"/>
<line x1="1703.5" y1="2046.71" x2="1738.5" y2="2045.42" stroke="#0000ff" stroke-width="10" stroke-linecap="round"/>
<line x1="460.9" y1="1837.6" x2="460.9" y2="1980" stroke="#0000ff" stroke-width="10" stroke-linecap="butt"/>
<line x1="448.4" y1="1837.6" x2="473.4" y2="1837.6" stroke="#0000ff" stroke-width="10" stroke-linecap="round"/>
<line x1="448.4" y1="1980" x2="473.4" y2="1980" stroke="#0000ff" stroke-width="10" stroke-linecap="round"/>
<rect x="447.9" y="1895.8" width="26" height="26" fill="#0000ff"/>
<line x1="1118.9" y1="2014.9" x2="1118.9" y2="2123" stroke="#0000ff" stroke-width="10" stroke-linecap="butt"/>
<line x1="1106.4" y1="2014.9" x2="1131.4" y2="2014.9" stroke="#0000ff" stroke-width="10" stroke-linecap="round"/>
<line x1="1106.4" y1="2123" x2="1131.4" y2="2123" stroke="#0000ff" stroke-width="10" stroke-linecap="round"/>
<rect x="1105.9" y="2055.3" width="26" height="26" fill="#0000ff"/>
<line x1="1776.9" y1="1967.8" x2="1776.9" y2="2121.1" stroke="#0000ff" stroke-width="10" stroke-linecap="butt"/>
<line x1="1764.4" y1="1967.8" x2="1789.4" y2="1967.8" stroke="#0000ff" stroke-width="10" stroke-linecap="round"/>
<line x1="1764.4" y1="2121.1" x2="1789.4" y2="2121.1" stroke="#0000ff" stroke-width="10" stroke-linecap="round"/>
<rect x="1763.9" y="2031" width="26" height="26" fill="#0000ff"/>
<line x1="509.1" y1="2288.53" x2="544.1" y2="2291.31" stroke="#ff0000" stroke-width="10" stroke-linecap="round"/>
<line x1="598.5" y1="2295.64" x2="633.5" y2="2298.42" stroke="#ff0000" stroke-width="10" stroke-linecap="round"/>
<line x1="687.9" y1="2302.74" x2="722.9" y2="2305.52" stroke="#ff0000" stroke-width="10" stroke-linecap="round"/>
<line x1="777.3" y1="2309.85" x2="812.3" y2="2312.63" stroke="#ff0000" stroke-width="10" stroke-linecap="round"/>
<line x1="866.7" y1="2316.95" x2="901.7" y2="2319.74" stroke="#ff0000" stroke-width="10" stroke-linecap="round"/>
<line x1="956.1" y1="2324.06" x2="991.1" y2="2326.84" stroke="#ff0000" stroke-width="10" stroke-linecap="round"/>
<line x1="1045.5" y1="2331.17" x2="1080.5" y2="2333.95" stroke="#ff0000" stroke-width="10" stroke-linecap="round"/>
<line x1="1167.1" y1="2333.81" x2="1202.1" y2="2331.49" stroke="#ff0000" stroke-width="10" stroke-linecap="round"/>
<line x1="1256.5" y1="2327.88" x2="1291.5" y2="2325.56" stroke="#ff0000" stroke-width="10" stroke-linecap="round"/>
<line x1="1345.9" y1="2321.96" x2="1380.9" y2="2319.64" stroke="#ff0000" stroke-width="10" stroke-linecap="round"/>
<line x1="1435.3" y1="2316.03" x2="1470.3" y2="2313.72" stroke="#ff0000" stroke-width="10" stroke-linecap="round"/>
<line x1="1524.7" y1="2310.11" x2="1559.7" y2="2307.79" stroke="#ff0000" stroke-width="10" stroke-linecap="round"/>
<line x1="1614.1" y1="2304.19" x2="1649.1" y2="2301.87" stroke="#ff0000" stroke-width="10" stroke-linecap="round"/>
<line x1="1703.5" y1="2298.26" x2="1738.5" y2="2295.94" stroke="#ff0000" stroke-width="10" stroke-linecap="round"/>
<line x1="460.9" y1="2238.8" x2="460.9" y2="2329.8" stroke="#ff0000" stroke-width="10" stroke-linecap="butt"/>
<line x1="448.4" y1="2238.8" x2="473.4" y2="2238.8" stroke="#ff0000" stroke-width="10" stroke-linecap="round"/>
<line x1="448.4" y1="2329.8" x2="473.4" y2="2329.8" stroke="#ff0000" stroke-width="10" stroke-linecap="round"/>
<rect x="447.9" y="2271.7" width="26" height="26" fill="#ff0000"/>
<line x1="1118.9" y1="2295.2" x2="1118.9" y2="2379.6" stroke="#ff0000" stroke-width="10" stroke-linecap="butt"/>
<line x1="1106.4" y1="2295.2" x2="1131.4" y2="2295.2" stroke="#ff0000" stroke-width="10" stroke-linecap="round"/>
<line x1="1106.4" y1="2379.6" x2="1131.4" y2="2379.6" stroke="#ff0000" stroke-width="10" stroke-linecap="round"/>
<rect x="1105.9" y="2324" width="26" height="26" fill="#ff0000"/>
<line x1="1776.9" y1="2224.8" x2="1776.9" y2="2360.3" stroke="#ff0000" stroke-width="10" stroke-linecap="butt"/>
<line x1="1764.4" y1="2224.8" x2="1789.4" y2="2224.8" stroke="#ff0000" stroke-width="10" stroke-linecap="round"/>
<line x1="1764.4" y1="2360.3" x2="1789.4" y2="2360.3" stroke="#ff0000" stroke-width="10" stroke-linecap="round"/>
<rect x="1763.9" y="2280.4" width="26" height="26" fill="#ff0000"/>
<text transform="translate(328.2,253.5) scale(1.0505,1)" font-family='"Liberation Serif", "Times New Roman", serif' font-weight="bold" font-size="151.6" fill="#000">(a)</text>
<text transform="translate(298.1,1638.2) scale(1.0654,1)" font-family='"Liberation Serif", "Times New Roman", serif' font-weight="bold" font-size="151.6" fill="#000">(b)</text>
<text transform="translate(343.19,1088.4) scale(0.9244,1)" font-family='"Liberation Sans", Arial, sans-serif' font-weight="bold" font-size="68" fill="#000">TiN as dep.</text>
<text transform="translate(975.37,1167.3) scale(0.9598,1)" font-family='"Liberation Sans", Arial, sans-serif' font-weight="bold" font-size="68" fill="#000">TiN:(Ti/AlN)</text>
<text transform="translate(976.2,1255.5) scale(0.9313,1)" font-family='"Liberation Sans", Arial, sans-serif' font-weight="bold" font-size="68" fill="#000">2:1 as dep.</text>
<text transform="translate(1588.87,1208) scale(0.9566,1)" font-family='"Liberation Sans", Arial, sans-serif' font-weight="bold" font-size="68" fill="#000">TiN:(Ti/AlN)</text>
<text transform="translate(1604.01,1296.7) scale(0.9316,1)" font-family='"Liberation Sans", Arial, sans-serif' font-weight="bold" font-size="68" fill="#000">1:1 as dep.</text>
<text transform="translate(328.67,2523.5) scale(0.9594,1)" font-family='"Liberation Sans", Arial, sans-serif' font-weight="bold" font-size="68" fill="#000">TiN annealed</text>
<text transform="scale(0.9350,1)" font-family='"Liberation Sans", Arial, sans-serif' font-weight="bold" font-size="68" fill="#000"><tspan x="980.73" y="2522.1">TiN:Ti</tspan><tspan x="1171.87" y="2540.6" font-size="46.4">2</tspan><tspan x="1200.31" y="2522.1">AlN</tspan></text>
<text transform="translate(916.72,2612.1) scale(0.9666,1)" font-family='"Liberation Sans", Arial, sans-serif' font-weight="bold" font-size="68" fill="#000">2:1 annealed</text>
<text transform="scale(0.9350,1)" font-family='"Liberation Sans", Arial, sans-serif' font-weight="bold" font-size="68" fill="#000"><tspan x="1636.35" y="2522.1">TiN:Ti</tspan><tspan x="1827.48" y="2540.6" font-size="46.4">2</tspan><tspan x="1856.67" y="2522.1">AlN</tspan></text>
<text transform="translate(1488.55,2612.1) scale(0.9680,1)" font-family='"Liberation Sans", Arial, sans-serif' font-weight="bold" font-size="68" fill="#000">1:1 annealed</text>
<polyline points="1215.9,527.3 1253.4,519.2 1285.6,514.4 1317.9,508.7 1343,505 1354.2,497.4 1362.3,486.9 1370.3,478.1 1378.4,470 1386.5,458.7 1394.5,448.2 1402.6,440.2 1410.6,432.1 1418.7,424.8 1423,420 1440.3,398.4 1456.5,380.6 1480.6,356.5 1497,337 1512.5,322 1524.2,308.5 1530,301 1536.3,294 1544.5,280 1556.6,267.3 1564.7,254.4 1572.5,246.5 1584.5,235.5 1592.6,219.5 1604.7,205 1616.5,196.3 1622.9,186.6 1629.4,176.1 1631,171.3 1647.1,171.3 1647.1,173.7 1642.3,185.8 1640.6,197.1 1637.4,201.9 1628.5,212.4 1626.1,220.5 1621.3,236.6 1616.5,244.7 1614.8,256.8 1608.4,269.7 1600.5,283 1596.8,290 1588.7,299.7 1587.1,312.6 1580.6,324.7 1572.6,336.8 1566.9,346.5 1564.5,358.5 1552.4,369 1548.4,378.7 1541.9,394.8 1540,400 1528.7,416.1 1522.3,430.6 1512.6,440.3 1504.5,450 1492.4,466.1 1480.3,484.7 1470.6,492.7 1456.1,507.3 1448.1,515 1440,519.5 1434.8,521.5 1426.8,526.5 1422.7,529.7 1380,530.5" fill="none" stroke="#008a00" stroke-width="4.5" stroke-linejoin="round" stroke-linecap="round"/>
<polyline points="1215.9,529.7 1253.4,525.6 1285.6,521.6 1309.8,519.2 1319.5,516.8 1330,511 1338.1,507.9 1346.1,500.6 1354.2,490.2 1362.3,479.7 1370.3,470.8 1378.4,461.9 1384.8,452.3 1388.1,445 1394.5,437.5 1402.6,430.5 1410.6,422.5 1412.5,420 1432.3,396.8 1452.4,374.2 1472.6,352.4 1492.7,332.3 1506,316 1519.5,300 1526.8,285.8 1536.5,271.3 1546.1,260.8 1556.6,250.3 1568.7,237.4 1577,224 1584.5,214.5 1592.6,202.3 1600.7,189.5 1608.7,179.5 1612.4,176.1 1616.5,171.3 1627.7,171.3 1626.1,176.1 1623.7,192.3 1618.1,204.4 1611.6,216.5 1608.4,228.5 1601.9,240.6 1597.1,252.7 1593.9,260.8 1584.2,274.5 1577.7,285.8 1576,296 1575,302.1 1566.9,311 1560.5,322.3 1554.8,334.4 1548.4,346.5 1540.3,358.5 1532.3,370.6 1529,386.8 1520.2,397.3 1511,414 1500.5,428.2 1490,443.5 1480.3,456.5 1474.7,468.5 1464.2,480.6 1452,492 1441.5,502.5 1434.8,509 1426.8,516.8 1418.7,523.2 1412.3,528.9 1390,530.5" fill="none" stroke="#008585" stroke-width="4.5" stroke-linejoin="round" stroke-linecap="round"/>
<polyline points="1215.9,530.5 1261.5,528.1 1301.8,524 1330,520.8 1356.6,518.4 1362.3,511.1 1370.3,500.6 1378.4,492.6 1386.5,486.1 1394.5,474 1402.6,465 1410.6,453.5 1418.7,443 1426.8,432.9 1434.8,421.6 1437.1,420 1456.5,388.7 1468.5,370.2 1476.6,356.5 1480.6,346.8 1488.7,334.7 1500.4,318.4 1512.1,302.1 1514.7,300 1521.9,285.8 1526.8,274.5 1532.4,267.3 1540.5,256.8 1550.2,236.6 1555,230.2 1560.6,221.3 1568.7,210 1576.8,193.9 1584.8,173.7 1585,171.3 1595,172 1594.5,173.7 1589.7,186.6 1580.8,202.7 1580,214.8 1572.7,228.5 1567.1,239 1561.5,256.8 1552.6,272.9 1544.5,285.8 1541.9,290 1537.5,300 1534.7,306.1 1528.2,322.3 1522.6,334.4 1516.1,346.5 1509.7,361 1504.8,370.6 1500,381.1 1492.7,392.7 1490.8,400 1480.3,420.2 1472.3,432.3 1464.2,444.4 1456.1,458.1 1447,471 1437.5,483.7 1426.8,493.4 1418.7,501.5 1414.7,511.1 1410.6,515.2 1394.5,519.2 1378.4,523.2 1366.3,527.3 1362.3,528.9 1300,531" fill="none" stroke="#0606aa" stroke-width="4.5" stroke-linejoin="round" stroke-linecap="round"/>
<line x1="1207" y1="531.2" x2="1215" y2="531.2" stroke="#000" stroke-width="3.96" stroke-linecap="butt"/>
<line x1="1210.6" y1="495.47" x2="1215" y2="495.47" stroke="#000" stroke-width="3.96" stroke-linecap="butt"/>
<line x1="1207" y1="459.75" x2="1215" y2="459.75" stroke="#000" stroke-width="3.96" stroke-linecap="butt"/>
<line x1="1210.6" y1="424.02" x2="1215" y2="424.02" stroke="#000" stroke-width="3.96" stroke-linecap="butt"/>
<line x1="1207" y1="388.29" x2="1215" y2="388.29" stroke="#000" stroke-width="3.96" stroke-linecap="butt"/>
<line x1="1210.6" y1="352.56" x2="1215" y2="352.56" stroke="#000" stroke-width="3.96" stroke-linecap="butt"/>
<line x1="1207" y1="316.84" x2="1215" y2="316.84" stroke="#000" stroke-width="3.96" stroke-linecap="butt"/>
<line x1="1210.6" y1="281.11" x2="1215" y2="281.11" stroke="#000" stroke-width="3.96" stroke-linecap="butt"/>
<line x1="1207" y1="245.38" x2="1215" y2="245.38" stroke="#000" stroke-width="3.96" stroke-linecap="butt"/>
<line x1="1210.6" y1="209.65" x2="1215" y2="209.65" stroke="#000" stroke-width="3.96" stroke-linecap="butt"/>
<line x1="1207" y1="173.93" x2="1215" y2="173.93" stroke="#000" stroke-width="3.96" stroke-linecap="butt"/>
<line x1="1210.6" y1="138.2" x2="1215" y2="138.2" stroke="#000" stroke-width="3.96" stroke-linecap="butt"/>
<line x1="1215" y1="531.2" x2="1215" y2="540.2" stroke="#000" stroke-width="3.96" stroke-linecap="butt"/>
<line x1="1259.19" y1="531.2" x2="1259.19" y2="536.6" stroke="#000" stroke-width="3.96" stroke-linecap="butt"/>
<line x1="1303.38" y1="531.2" x2="1303.38" y2="540.2" stroke="#000" stroke-width="3.96" stroke-linecap="butt"/>
<line x1="1347.58" y1="531.2" x2="1347.58" y2="536.6" stroke="#000" stroke-width="3.96" stroke-linecap="butt"/>
<line x1="1391.77" y1="531.2" x2="1391.77" y2="540.2" stroke="#000" stroke-width="3.96" stroke-linecap="butt"/>
<line x1="1435.96" y1="531.2" x2="1435.96" y2="536.6" stroke="#000" stroke-width="3.96" stroke-linecap="butt"/>
<line x1="1480.15" y1="531.2" x2="1480.15" y2="540.2" stroke="#000" stroke-width="3.96" stroke-linecap="butt"/>
<line x1="1524.34" y1="531.2" x2="1524.34" y2="536.6" stroke="#000" stroke-width="3.96" stroke-linecap="butt"/>
<line x1="1568.53" y1="531.2" x2="1568.53" y2="540.2" stroke="#000" stroke-width="3.96" stroke-linecap="butt"/>
<line x1="1612.72" y1="531.2" x2="1612.72" y2="536.6" stroke="#000" stroke-width="3.96" stroke-linecap="butt"/>
<line x1="1656.92" y1="531.2" x2="1656.92" y2="540.2" stroke="#000" stroke-width="3.96" stroke-linecap="butt"/>
<line x1="1701.11" y1="531.2" x2="1701.11" y2="536.6" stroke="#000" stroke-width="3.96" stroke-linecap="butt"/>
<line x1="1745.3" y1="531.2" x2="1745.3" y2="540.2" stroke="#000" stroke-width="3.96" stroke-linecap="butt"/>
<rect x="1215" y="138.2" width="530.3" height="393" fill="none" stroke="#000" stroke-width="4.4"/>
<text transform="translate(1152.18,541.2) scale(1.0000,1)" font-family='"Liberation Sans", Arial, sans-serif' font-weight="bold" font-size="35" fill="#000">0.0</text>
<text transform="translate(1152.15,469.75) scale(1.0000,1)" font-family='"Liberation Sans", Arial, sans-serif' font-weight="bold" font-size="35" fill="#000">0.2</text>
<text transform="translate(1150.93,398.29) scale(1.0000,1)" font-family='"Liberation Sans", Arial, sans-serif' font-weight="bold" font-size="35" fill="#000">0.4</text>
<text transform="translate(1152.01,326.84) scale(1.0000,1)" font-family='"Liberation Sans", Arial, sans-serif' font-weight="bold" font-size="35" fill="#000">0.6</text>
<text transform="translate(1151.82,255.38) scale(1.0000,1)" font-family='"Liberation Sans", Arial, sans-serif' font-weight="bold" font-size="35" fill="#000">0.8</text>
<text transform="translate(1152.18,183.93) scale(1.0000,1)" font-family='"Liberation Sans", Arial, sans-serif' font-weight="bold" font-size="35" fill="#000">1.0</text>
<text transform="translate(1205.29,573.7) scale(1.0000,1)" font-family='"Liberation Sans", Arial, sans-serif' font-weight="bold" font-size="35" fill="#000">0</text>
<text transform="translate(1283.53,573.7) scale(1.0000,1)" font-family='"Liberation Sans", Arial, sans-serif' font-weight="bold" font-size="35" fill="#000">10</text>
<text transform="translate(1372.41,573.7) scale(1.0000,1)" font-family='"Liberation Sans", Arial, sans-serif' font-weight="bold" font-size="35" fill="#000">20</text>
<text transform="translate(1461,573.7) scale(1.0000,1)" font-family='"Liberation Sans", Arial, sans-serif' font-weight="bold" font-size="35" fill="#000">30</text>
<text transform="translate(1549.52,573.7) scale(1.0000,1)" font-family='"Liberation Sans", Arial, sans-serif' font-weight="bold" font-size="35" fill="#000">40</text>
<text transform="translate(1637.63,573.7) scale(1.0000,1)" font-family='"Liberation Sans", Arial, sans-serif' font-weight="bold" font-size="35" fill="#000">50</text>
<text transform="translate(1725.91,573.7) scale(1.0000,1)" font-family='"Liberation Sans", Arial, sans-serif' font-weight="bold" font-size="35" fill="#000">60</text>
<text transform="translate(1220.03,617.9) scale(1.0126,1)" font-family='"Liberation Sans", Arial, sans-serif' font-weight="normal" font-size="37" fill="#1a1a1a">Displacement into surface (nm)</text>
<text transform="translate(1135.9,522.52) rotate(-90) scale(0.9994,1.0000)" font-family='"Liberation Sans", Arial, sans-serif' font-weight="normal" font-size="38" fill="#1a1a1a">Load on sample (mN)</text>
<line x1="1240" y1="187" x2="1313.4" y2="187" stroke="#008a00" stroke-width="5" stroke-linecap="butt"/>
<text transform="translate(1319.71,196.9) scale(1.0000,1)" font-family='"Liberation Sans", Arial, sans-serif' font-weight="normal" font-size="30" fill="#262626">1:1</text>
<line x1="1240" y1="224.5" x2="1313.4" y2="224.5" stroke="#008585" stroke-width="5" stroke-linecap="butt"/>
<text transform="translate(1320.49,235.8) scale(1.0000,1)" font-family='"Liberation Sans", Arial, sans-serif' font-weight="normal" font-size="30" fill="#262626">2:1</text>
<line x1="1240" y1="263.4" x2="1313.4" y2="263.4" stroke="#0606aa" stroke-width="5" stroke-linecap="butt"/>
<text transform="translate(1321.33,274.7) scale(1.0000,1)" font-family='"Liberation Sans", Arial, sans-serif' font-weight="normal" font-size="30" fill="#262626">TiN</text>
<polyline points="1158.9,1898.5 1198.4,1897.7 1230.6,1894 1271,1881.1 1289.7,1869.5 1304.2,1857.4 1320.3,1838.1 1336.5,1814.7 1352.6,1794.5 1359,1789 1366,1780 1376.3,1762.9 1388.4,1746.8 1404.5,1726.6 1419,1710.5 1430.2,1696.5 1437,1686.3 1442.3,1677.5 1449,1669 1455,1660 1466.5,1640.5 1480.3,1622.4 1492.4,1604.7 1504.5,1590.2 1512.6,1576.5 1520.6,1562.7 1528.7,1550.6 1536.8,1536.1 1538.4,1534.5 1543.2,1534.5 1547.3,1538.5 1544,1556.3 1539.2,1568.4 1532.7,1580.5 1527.1,1591 1520.6,1600.6 1515,1612.7 1510.2,1624.8 1502.8,1638 1494.7,1656.1 1486.6,1672.3 1481,1684.4 1476.1,1700.5 1470.5,1712.6 1462.4,1724.7 1454.4,1740.8 1446.3,1756.9 1439,1769 1436.6,1780 1428.7,1790 1420,1801.8 1409,1820.3 1396.9,1838.9 1384.8,1856.6 1372.7,1872.7 1360.6,1887.3 1348.5,1894.5 1336.5,1898.5 1300,1900" fill="none" stroke="#008a00" stroke-width="4.5" stroke-linejoin="round" stroke-linecap="round"/>
<polyline points="1158.9,1896.5 1190.3,1893.6 1222.6,1890 1254.8,1886.8 1280,1885.6 1292.1,1884.8 1304.2,1871.1 1312.3,1863.9 1320.3,1854.2 1328.4,1842.1 1336.5,1832.4 1344.5,1821.9 1352.6,1812.3 1360.6,1801.8 1368.5,1790.3 1376.5,1780 1384.4,1771 1388.4,1756.5 1396.5,1746.8 1408.5,1730.6 1419,1718.5 1431.5,1705 1443.5,1686 1455.5,1668.5 1466,1659 1477,1640 1484.4,1624.8 1492.4,1608.7 1500.5,1600.6 1506.1,1592.6 1510.2,1580.5 1516.6,1572.4 1524.7,1566 1532.7,1552.3 1540.8,1538.5 1543.2,1534.5 1552.9,1535.3 1552.9,1537.7 1550.5,1550.6 1544.8,1568.4 1539.2,1582.9 1533.5,1590.2 1528.7,1599 1527.9,1608.7 1526.3,1616.8 1520.6,1624.8 1516.6,1632.9 1511,1645 1506.8,1656.1 1498.7,1672.3 1490.6,1686.8 1482.6,1704.5 1474.5,1720.6 1466.5,1736.8 1458.4,1751.3 1450.3,1765 1445.5,1780 1438.4,1790 1420,1814.7 1409,1832.4 1396.9,1852.6 1384.8,1871.1 1372.7,1886.5 1360.6,1896.9 1355,1900.2 1320,1900.5" fill="none" stroke="#0000ff" stroke-width="4.5" stroke-linejoin="round" stroke-linecap="round"/>
<polyline points="1158.9,1899.7 1206.5,1898.5 1222.6,1894 1238.7,1888.4 1254.8,1882.7 1271,1877.9 1289.7,1871.9 1296.1,1870.3 1304.2,1861.5 1312.3,1852.6 1320.3,1840.5 1328.4,1830 1336.5,1820.3 1344.5,1806.6 1352.6,1793.7 1360,1780 1368.2,1769.4 1380.3,1751.6 1392.4,1734.7 1404.5,1716.1 1410,1710 1422.1,1692.4 1434.2,1672.3 1446.3,1656.1 1451.3,1650 1460.2,1641 1472.3,1621.6 1484.4,1599 1492.4,1584.5 1495.6,1578.1 1504.5,1568.4 1511,1556.3 1517.4,1544.2 1520.6,1536.1 1521.5,1534.5 1531.1,1534.5 1530.3,1537.7 1525.5,1552.3 1520.6,1566.8 1516.6,1584.5 1508.5,1596.6 1502.9,1604.7 1500.5,1612.7 1499.7,1622.4 1496.5,1628.9 1491,1642 1482.6,1660.2 1476.9,1672.3 1472.9,1684.4 1466.5,1696.5 1462.4,1708.5 1458.4,1716.6 1454.4,1724.7 1450.3,1732.7 1443.9,1748.9 1435.8,1765 1428.5,1780 1420,1790.5 1413.1,1800.2 1405,1814.7 1396.9,1830 1388.9,1844.5 1380.8,1857.4 1372.7,1867.1 1364.7,1876.8 1356.6,1886.5 1348.5,1888.1 1328.4,1890.5 1308.2,1893.7 1288.1,1896.9 1271,1898.1 1240,1900" fill="none" stroke="#ff0000" stroke-width="4.5" stroke-linejoin="round" stroke-linecap="round"/>
<line x1="1149.8" y1="1900.3" x2="1158.3" y2="1900.3" stroke="#000" stroke-width="3.96" stroke-linecap="butt"/>
<line x1="1153.62" y1="1864.05" x2="1158.3" y2="1864.05" stroke="#000" stroke-width="3.96" stroke-linecap="butt"/>
<line x1="1149.8" y1="1827.81" x2="1158.3" y2="1827.81" stroke="#000" stroke-width="3.96" stroke-linecap="butt"/>
<line x1="1153.62" y1="1791.56" x2="1158.3" y2="1791.56" stroke="#000" stroke-width="3.96" stroke-linecap="butt"/>
<line x1="1149.8" y1="1755.32" x2="1158.3" y2="1755.32" stroke="#000" stroke-width="3.96" stroke-linecap="butt"/>
<line x1="1153.62" y1="1719.07" x2="1158.3" y2="1719.07" stroke="#000" stroke-width="3.96" stroke-linecap="butt"/>
<line x1="1149.8" y1="1682.83" x2="1158.3" y2="1682.83" stroke="#000" stroke-width="3.96" stroke-linecap="butt"/>
<line x1="1153.62" y1="1646.58" x2="1158.3" y2="1646.58" stroke="#000" stroke-width="3.96" stroke-linecap="butt"/>
<line x1="1149.8" y1="1610.34" x2="1158.3" y2="1610.34" stroke="#000" stroke-width="3.96" stroke-linecap="butt"/>
<line x1="1153.62" y1="1574.09" x2="1158.3" y2="1574.09" stroke="#000" stroke-width="3.96" stroke-linecap="butt"/>
<line x1="1149.8" y1="1537.85" x2="1158.3" y2="1537.85" stroke="#000" stroke-width="3.96" stroke-linecap="butt"/>
<line x1="1153.62" y1="1501.6" x2="1158.3" y2="1501.6" stroke="#000" stroke-width="3.96" stroke-linecap="butt"/>
<line x1="1158.3" y1="1900.3" x2="1158.3" y2="1909.8" stroke="#000" stroke-width="3.96" stroke-linecap="butt"/>
<line x1="1203.02" y1="1900.3" x2="1203.02" y2="1906" stroke="#000" stroke-width="3.96" stroke-linecap="butt"/>
<line x1="1247.73" y1="1900.3" x2="1247.73" y2="1909.8" stroke="#000" stroke-width="3.96" stroke-linecap="butt"/>
<line x1="1292.45" y1="1900.3" x2="1292.45" y2="1906" stroke="#000" stroke-width="3.96" stroke-linecap="butt"/>
<line x1="1337.17" y1="1900.3" x2="1337.17" y2="1909.8" stroke="#000" stroke-width="3.96" stroke-linecap="butt"/>
<line x1="1381.88" y1="1900.3" x2="1381.88" y2="1906" stroke="#000" stroke-width="3.96" stroke-linecap="butt"/>
<line x1="1426.6" y1="1900.3" x2="1426.6" y2="1909.8" stroke="#000" stroke-width="3.96" stroke-linecap="butt"/>
<line x1="1471.32" y1="1900.3" x2="1471.32" y2="1906" stroke="#000" stroke-width="3.96" stroke-linecap="butt"/>
<line x1="1516.03" y1="1900.3" x2="1516.03" y2="1909.8" stroke="#000" stroke-width="3.96" stroke-linecap="butt"/>
<line x1="1560.75" y1="1900.3" x2="1560.75" y2="1906" stroke="#000" stroke-width="3.96" stroke-linecap="butt"/>
<line x1="1605.47" y1="1900.3" x2="1605.47" y2="1909.8" stroke="#000" stroke-width="3.96" stroke-linecap="butt"/>
<line x1="1650.18" y1="1900.3" x2="1650.18" y2="1906" stroke="#000" stroke-width="3.96" stroke-linecap="butt"/>
<line x1="1694.9" y1="1900.3" x2="1694.9" y2="1909.8" stroke="#000" stroke-width="3.96" stroke-linecap="butt"/>
<rect x="1158.3" y="1501.6" width="536.6" height="398.7" fill="none" stroke="#000" stroke-width="4.4"/>
<text transform="translate(1094.78,1911.3) scale(1.0000,1)" font-family='"Liberation Sans", Arial, sans-serif' font-weight="bold" font-size="35" fill="#000">0.0</text>
<text transform="translate(1094.75,1838.81) scale(1.0000,1)" font-family='"Liberation Sans", Arial, sans-serif' font-weight="bold" font-size="35" fill="#000">0.2</text>
<text transform="translate(1093.53,1766.32) scale(1.0000,1)" font-family='"Liberation Sans", Arial, sans-serif' font-weight="bold" font-size="35" fill="#000">0.4</text>
<text transform="translate(1094.61,1693.83) scale(1.0000,1)" font-family='"Liberation Sans", Arial, sans-serif' font-weight="bold" font-size="35" fill="#000">0.6</text>
<text transform="translate(1094.42,1621.34) scale(1.0000,1)" font-family='"Liberation Sans", Arial, sans-serif' font-weight="bold" font-size="35" fill="#000">0.8</text>
<text transform="translate(1094.78,1548.85) scale(1.0000,1)" font-family='"Liberation Sans", Arial, sans-serif' font-weight="bold" font-size="35" fill="#000">1.0</text>
<text transform="translate(1148.59,1944) scale(1.0000,1)" font-family='"Liberation Sans", Arial, sans-serif' font-weight="bold" font-size="35" fill="#000">0</text>
<text transform="translate(1227.88,1944) scale(1.0000,1)" font-family='"Liberation Sans", Arial, sans-serif' font-weight="bold" font-size="35" fill="#000">10</text>
<text transform="translate(1317.81,1944) scale(1.0000,1)" font-family='"Liberation Sans", Arial, sans-serif' font-weight="bold" font-size="35" fill="#000">20</text>
<text transform="translate(1407.45,1944) scale(1.0000,1)" font-family='"Liberation Sans", Arial, sans-serif' font-weight="bold" font-size="35" fill="#000">30</text>
<text transform="translate(1497.02,1944) scale(1.0000,1)" font-family='"Liberation Sans", Arial, sans-serif' font-weight="bold" font-size="35" fill="#000">40</text>
<text transform="translate(1586.18,1944) scale(1.0000,1)" font-family='"Liberation Sans", Arial, sans-serif' font-weight="bold" font-size="35" fill="#000">50</text>
<text transform="translate(1675.51,1944) scale(1.0000,1)" font-family='"Liberation Sans", Arial, sans-serif' font-weight="bold" font-size="35" fill="#000">60</text>
<text transform="translate(1164.48,1989) scale(1.0002,1)" font-family='"Liberation Sans", Arial, sans-serif' font-weight="normal" font-size="38" fill="#1a1a1a">Displacement into surface (nm)</text>
<text transform="translate(1078,1892.44) rotate(-90) scale(1.0067,1.0000)" font-family='"Liberation Sans", Arial, sans-serif' font-weight="normal" font-size="38" fill="#1a1a1a">Load on sample (mN)</text>
<line x1="1209.3" y1="1550.8" x2="1269" y2="1550.8" stroke="#008a00" stroke-width="5" stroke-linecap="butt"/>
<text transform="translate(1273.1,1560) scale(1.0000,1)" font-family='"Liberation Sans", Arial, sans-serif' font-weight="normal" font-size="25" fill="#262626">1:1</text>
<line x1="1209.3" y1="1581.6" x2="1269" y2="1581.6" stroke="#0000ff" stroke-width="5" stroke-linecap="butt"/>
<text transform="translate(1273.74,1590.2) scale(1.0000,1)" font-family='"Liberation Sans", Arial, sans-serif' font-weight="normal" font-size="25" fill="#262626">2:1</text>
<line x1="1209.3" y1="1613.6" x2="1269" y2="1613.6" stroke="#ff0000" stroke-width="5" stroke-linecap="butt"/>
<text transform="translate(1274.44,1622.2) scale(1.0000,1)" font-family='"Liberation Sans", Arial, sans-serif' font-weight="normal" font-size="25" fill="#262626">TN</text>
</svg>
</body></html>
